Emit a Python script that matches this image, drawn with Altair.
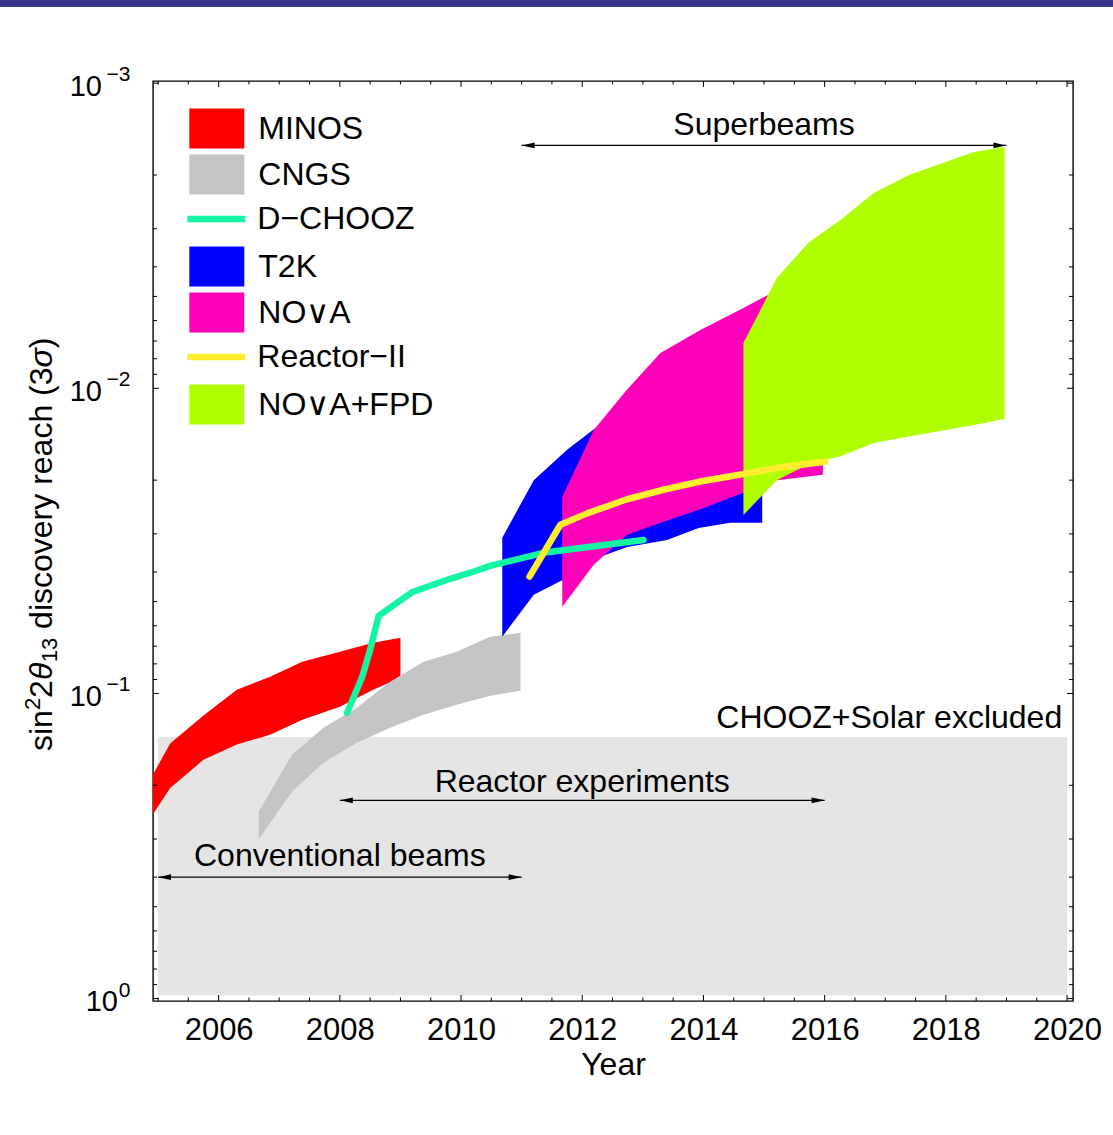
import altair as alt
import pandas as pd

# ---------------------------------------------------------------------------
# Discovery reach for sin^2(2 theta_13) at 3 sigma versus year.
# Each band: year, best reach (lo) and conservative reach (hi).
# ---------------------------------------------------------------------------
minos_year = [2004.9, 2005.2, 2005.75, 2006.3, 2006.85, 2007.38, 2008.0, 2008.55, 2009.0]
minos_lo = [0.187, 0.146, 0.118, 0.0972, 0.0882, 0.0787, 0.0730, 0.0682, 0.0657]
minos_hi = [0.252, 0.204, 0.165, 0.147, 0.1365, 0.122, 0.1105, 0.0972, 0.0888]

cngs_year = [2006.66, 2007.21, 2007.73, 2008.28, 2008.83, 2009.38, 2009.93, 2010.48, 2010.98]
cngs_lo = [0.244, 0.1587, 0.1295, 0.1114, 0.0916, 0.0787, 0.0730, 0.0652, 0.0633]
cngs_hi = [0.301, 0.210, 0.1686, 0.145, 0.1295, 0.1174, 0.1089, 0.1017, 0.098]

t2k_year = [2010.68, 2011.20, 2011.75, 2012.24, 2012.74, 2013.40, 2013.92, 2014.44, 2014.97]
t2k_lo = [0.0309, 0.0200, 0.0159, 0.0134, 0.0118, 0.0105, 0.00975, 0.00905, 0.00858]
t2k_hi = [0.0652, 0.0475, 0.0418, 0.0360, 0.0331, 0.0314, 0.0287, 0.0276, 0.0276]

nova_year = [2011.67, 2012.19, 2012.74, 2013.29, 2013.95, 2014.66, 2015.21, 2015.97]
nova_lo = [0.0227, 0.0137, 0.0101, 0.00766, 0.00644, 0.00546, 0.00477, 0.00416]
nova_hi = [0.0520, 0.0379, 0.0302, 0.0276, 0.0249, 0.0220, 0.0200, 0.0192]

fpd_year = [2014.66, 2015.21, 2015.74, 2016.26, 2016.81, 2017.39, 2018.46, 2018.97]
fpd_lo = [0.00711, 0.00435, 0.00332, 0.00281, 0.00229, 0.00200, 0.00168, 0.00162]
fpd_hi = [0.0260, 0.0200, 0.0177, 0.0167, 0.0151, 0.0144, 0.0132, 0.0126]

# Reactor curves
dchooz_year = [2008.12, 2008.37, 2008.50, 2008.64, 2009.20, 2009.82, 2010.24, 2010.48, 2011.36, 2013.01]
dchooz_reach = [0.1157, 0.0882, 0.0719, 0.0557, 0.0465, 0.0421, 0.0397, 0.0382, 0.0346, 0.0314]

reactor2_year = [2011.13, 2011.64, 2012.08, 2012.74, 2013.34, 2013.95, 2014.66, 2015.32, 2016.01]
reactor2_reach = [0.0414, 0.0280, 0.0257, 0.0231, 0.0215, 0.0202, 0.0191, 0.0181, 0.0174]

# CHOOZ + solar excluded region
excluded_years = [2005.0, 2020.0]
excluded_range = [0.139, 0.977]

# Era arrows
era_names = ["Conventional beams", "Reactor experiments", "Superbeams"]
era_start = [2005.0, 2008.0, 2011.0]
era_end = [2011.0, 2016.0, 2019.0]
era_level = [0.40, 0.224, 0.0016]
era_text_year = [2008.0, 2012.0, 2015.0]
era_text_level = [0.367, 0.21, 0.00148]

names = ["MINOS", "CNGS", "D\u2212CHOOZ", "T2K", "NO\u2228A", "Reactor\u2212II", "NO\u2228A+FPD"]
colors = ["#FF0000", "#C4C4C4", "#14F5A2", "#0000FF", "#FF00BA", "#FFEE30", "#B0FF00"]

x_major = [2006, 2008, 2010, 2012, 2014, 2016, 2018, 2020]
x_minor = [2005 + 0.5 * i for i in range(31)]
y_major = [0.001, 0.01, 0.1, 1.0]
y_minor = [m * 10.0 ** k for k in (-3, -2, -1) for m in range(2, 10)]
y_exponents = ["\u22123", "\u22122", "\u22121", "0"]

FONT = "Liberation Sans"
W, H = 920, 920

# ---------------------------------------------------------------------------
x_scale = alt.Scale(domain=[2004.917, 2020.098], nice=False, zero=False)
y_scale = alt.Scale(type="log", domain=[0.000984, 1.0183], reverse=True, nice=False)

x_axis = alt.Axis(values=x_major, format="d", labelFontSize=31, labelFont=FONT,
                  labelColor="black", labelPadding=14.5, tickSize=0, ticks=False,
                  domain=False, grid=False, labelFlush=False,
                  title="Year", titleFontSize=32, titleFont=FONT, titleFontWeight="normal",
                  titleColor="black", titleBaseline="alphabetic", titleY=73.5)


def X(field):
    return alt.X(field, type="quantitative", scale=x_scale, axis=x_axis)


def Y(field):
    return alt.Y(field, type="quantitative", scale=y_scale, axis=None)


BOX = "M-1.375,-1L1.375,-1L1.375,1L-1.375,1Z"
STROKE = "M-1.45,-1M-1.45,1M-1.45,0L1.45,0"
LEGEND_X, LEGEND_Y, LEGEND_STEP = 43.8, 27.5, 46


def entry_legend(idx, is_line):
    """One-entry legend stacked into the key at the top left of the plot."""
    return alt.Legend(
        title=None, orient="none",
        legendX=LEGEND_X - (4 if is_line else 0),
        legendY=LEGEND_Y + LEGEND_STEP * idx - (5 if is_line else 0),
        padding=0, symbolSize=1600, symbolType=STROKE if is_line else BOX,
        symbolStrokeWidth=6.5 if is_line else 0, symbolOpacity=1,
        labelOffset=17.5 if is_line else 21.5, labelFontSize=32, labelFont=FONT,
        labelColor="black", labelLimit=0,
    )


def color_enc(idx, is_line):
    return alt.Color("experiment:N",
                     scale=alt.Scale(domain=[names[idx]], range=[colors[idx]]),
                     legend=entry_legend(idx, is_line))


# ---------------------------------------------------------------------------
excluded = pd.DataFrame({"x0": [excluded_years[0]], "x1": [excluded_years[1]],
                         "y0": [excluded_range[0]], "y1": [excluded_range[1]]})
excluded_layer = alt.Chart(excluded).mark_rect(color="#E5E5E5").encode(
    x=X("x0"), x2="x1:Q", y=Y("y0"), y2="y1:Q",
)


def band(idx, years, lo, hi):
    df = pd.DataFrame({"experiment": names[idx], "year": years, "lo": lo, "hi": hi})
    return alt.Chart(df).mark_area(clip=True, opacity=1).encode(
        x=X("year"), y=Y("lo"), y2="hi:Q",
        color=color_enc(idx, False),
    )


def curve(idx, years, reach):
    df = pd.DataFrame({"experiment": names[idx], "year": years, "reach": reach})
    return alt.Chart(df).mark_line(clip=True, strokeWidth=6.5, strokeCap="round",
                                   strokeJoin="round").encode(
        x=X("year"), y=Y("reach"),
        color=color_enc(idx, True),
        order="year:Q",
    )


minos = band(0, minos_year, minos_lo, minos_hi)
cngs = band(1, cngs_year, cngs_lo, cngs_hi)
t2k = band(3, t2k_year, t2k_lo, t2k_hi)
nova = band(4, nova_year, nova_lo, nova_hi)
fpd = band(6, fpd_year, fpd_lo, fpd_hi)
dchooz = curve(2, dchooz_year, dchooz_reach)
reactor2 = curve(5, reactor2_year, reactor2_reach)

# Era arrows and their captions
eras = pd.DataFrame({"era": era_names, "start": era_start, "end": era_end,
                     "level": era_level, "tx": era_text_year, "ty": era_text_level})
era_lines = alt.Chart(eras).mark_rule(color="black", strokeWidth=1.3).encode(
    x=X("start"), x2="end:Q", y=Y("level"),
)
HEAD_L = "M0,0L2,-0.45L2,0.45Z"
HEAD_R = "M0,0L-2,-0.45L-2,0.45Z"
heads_l = alt.Chart(eras).mark_point(shape=HEAD_L, filled=True, size=169, color="black",
                                     opacity=1, strokeWidth=0).encode(
    x=X("start"), y=Y("level"),
)
heads_r = alt.Chart(eras).mark_point(shape=HEAD_R, filled=True, size=169, color="black",
                                     opacity=1, strokeWidth=0).encode(
    x=X("end"), y=Y("level"),
)
era_text = alt.Chart(eras).mark_text(font=FONT, fontSize=32, color="black",
                                     baseline="alphabetic", align="center").encode(
    x=X("tx"), y=Y("ty"), text="era:N",
)
excl_text = alt.Chart(pd.DataFrame({"label": ["CHOOZ+Solar excluded"], "tx": [2019.92],
                                    "ty": [0.1298]})).mark_text(
    font=FONT, fontSize=32, color="black", baseline="alphabetic", align="right").encode(
    x=X("tx"), y=Y("ty"), text="label:N",
)

# Frame ticks (inward, all four sides)
xt = pd.DataFrame({"year": x_minor})
xt["major"] = xt["year"].isin(x_major)
yt = pd.DataFrame({"v": y_major + y_minor, "major": [True] * 4 + [False] * len(y_minor)})


def x_ticks(major, length):
    d = xt[xt["major"] == major]
    bottom = alt.Chart(d).mark_rule(color="black", strokeWidth=1).encode(
        x=X("year"), y=alt.value(H), y2=alt.value(H - length))
    top = alt.Chart(d).mark_rule(color="black", strokeWidth=1).encode(
        x=X("year"), y=alt.value(0), y2=alt.value(length))
    return [bottom, top]


def y_ticks(major, length):
    d = yt[yt["major"] == major]
    left = alt.Chart(d).mark_rule(color="black", strokeWidth=1).encode(
        y=Y("v"), x=alt.value(0), x2=alt.value(length))
    right = alt.Chart(d).mark_rule(color="black", strokeWidth=1).encode(
        y=Y("v"), x=alt.value(W), x2=alt.value(W - length))
    return [left, right]


ticks = x_ticks(True, 6) + x_ticks(False, 3.5) + y_ticks(True, 6) + y_ticks(False, 4)

# Y tick labels as powers of ten, right-aligned as a whole
ylab = pd.DataFrame({"v": y_major, "base": ["10"] * 4, "exp": y_exponents})
ylab_neg = ylab[ylab["v"] < 1]
ylab_one = ylab[ylab["v"] >= 1]
base_style = dict(font=FONT, fontSize=29, color="black", align="right",
                  baseline="alphabetic", dy=12.5)
ylab_base_neg = alt.Chart(ylab_neg).mark_text(**base_style).encode(
    y=Y("v"), x=alt.value(-51), text="base:N")
ylab_base_one = alt.Chart(ylab_one).mark_text(**base_style).encode(
    y=Y("v"), x=alt.value(-35), text="base:N")
ylab_exp = alt.Chart(ylab).mark_text(font=FONT, fontSize=21, color="black", align="right",
                                     baseline="alphabetic", dy=-2).encode(
    y=Y("v"), x=alt.value(-22.5), text="exp:N")


# Vertical axis title, set piece by piece so the super/subscripts keep their size
def title_piece(text, x, y, size=32, style="normal"):
    return alt.Chart(pd.DataFrame({"t": [text]})).mark_text(
        font=FONT, fontSize=size, fontStyle=style, color="black", angle=270,
        align="left", baseline="alphabetic",
    ).encode(x=alt.value(x), y=alt.value(y), text="t:N")


TX = -100.7
y_title = [
    title_piece("sin", TX, 670.0),
    title_piece("2", TX - 12, 629.1, size=22),
    title_piece("2", TX, 616.9),
    title_piece("\u03b8", TX, 599.1, style="italic"),
    title_piece("13", TX + 5, 581.3, size=22),
    title_piece("discovery reach (3", TX, 547.9),
    title_piece("\u03c3", TX, 286.5, style="italic"),
    title_piece(")", TX, 267.3),
]

# Header band across the top of the page
header = alt.Chart(pd.DataFrame({"h": [0]})).mark_rect(color="#36368A").encode(
    x=alt.value(-153), x2=alt.value(W + 40), y=alt.value(-81), y2=alt.value(-74))

chart = alt.layer(
    excluded_layer, minos, cngs, t2k, nova, fpd, dchooz, reactor2,
    era_lines, heads_l, heads_r, era_text, excl_text,
    *ticks, ylab_base_neg, ylab_base_one, ylab_exp, *y_title, header,
).resolve_scale(
    color="independent",
).properties(
    width=W, height=H,
    autosize=alt.AutoSizeParams(type="none"),
    padding={"left": 153, "top": 81, "right": 40, "bottom": 134},
    background="white",
).configure(
    font=FONT,
).configure_view(
    stroke="black", strokeWidth=1.4,
)

chart.save("out.html", embed_options={"renderer": "svg", "actions": False})
